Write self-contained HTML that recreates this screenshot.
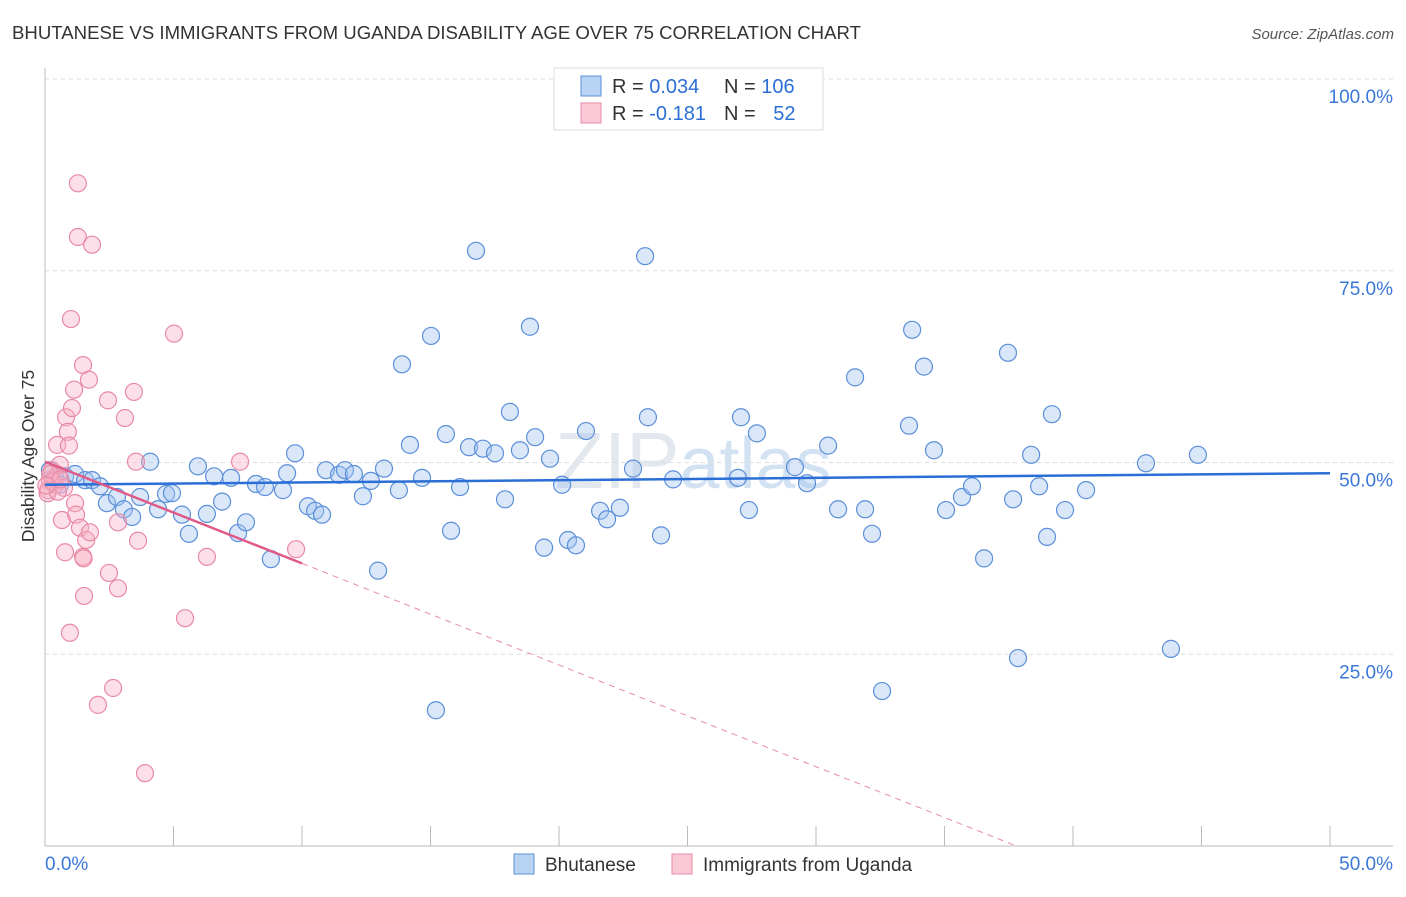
<!DOCTYPE html>
<html><head><meta charset="utf-8"><style>
body{margin:0;background:#fff;font-family:"Liberation Sans",sans-serif}
svg text{font-family:"Liberation Sans",sans-serif}
</style></head><body>
<svg id="chart" width="1406" height="892" xmlns="http://www.w3.org/2000/svg">
<text x="12" y="39" font-size="18.6" fill="#333">BHUTANESE VS IMMIGRANTS FROM UGANDA DISABILITY AGE OVER 75 CORRELATION CHART</text>
<text x="1394" y="39" font-size="15" fill="#555" text-anchor="end" font-style="italic">Source: ZipAtlas.com</text>
<text x="555" y="488" font-size="80" fill="#e3e8ef" font-family="Liberation Serif">ZIP<tspan fill="#d3e2f3" font-family="Liberation Sans" font-size="72">atlas</tspan></text>
<g id="grid"></g>
<g id="axes"></g>
<g id="marks"></g>
<text transform="translate(34,456) rotate(-90)" font-size="17.5" fill="#333" text-anchor="middle">Disability Age Over 75</text>
<g>
<rect x="554" y="68" width="269" height="62" fill="#fff" stroke="#ddd"/>
<rect x="581" y="76" width="20" height="20" fill="#b9d3f3" stroke="#5b8fd9"/>
<rect x="581" y="103" width="20" height="20" fill="#fbc9d6" stroke="#e88aa5"/>
<text x="612" y="93" font-size="20" fill="#333">R = <tspan fill="#2b6fd6">0.034</tspan></text>
<text x="724" y="93" font-size="20" fill="#333">N = <tspan fill="#2b6fd6">106</tspan></text>
<text x="612" y="120" font-size="20" fill="#333">R = <tspan fill="#2b6fd6">-0.181</tspan></text>
<text x="724" y="120" font-size="20" fill="#333">N = <tspan fill="#2b6fd6" dx="12">52</tspan></text>
</g>
<g>
<rect x="514" y="854" width="20" height="20" fill="#b9d3f3" stroke="#5b8fd9"/>
<text x="545" y="871" font-size="19" fill="#333">Bhutanese</text>
<rect x="672" y="854" width="20" height="20" fill="#fbc9d6" stroke="#e88aa5"/>
<text x="703" y="871" font-size="19" fill="#333">Immigrants from Uganda</text>
</g>
</svg>
<script>
const xTicks=[0,5,10,15,20,25,30,35,40,45,50];
const yTicks=[25,50,75,100];
const yTickLabels=["25.0%","50.0%","75.0%","100.0%"];
const blueX=[0.19,0.39,0.58,0.78,1.17,1.56,1.83,2.14,2.41,2.80,3.07,3.39,3.70,4.09,4.40,4.71,4.94,5.33,5.60,5.95,6.30,6.58,6.89,7.24,7.51,7.82,8.21,8.56,8.79,9.26,9.42,9.73,10.23,10.51,10.78,10.93,11.44,11.67,12.02,12.37,12.68,12.96,13.19,13.77,13.89,14.20,14.67,15.02,15.21,15.60,15.80,16.15,16.50,16.77,17.04,17.51,17.90,18.09,18.48,18.87,19.07,19.42,19.65,20.12,20.35,20.66,21.05,21.60,21.87,22.37,22.88,23.35,23.46,23.97,24.44,26.96,27.08,27.39,27.70,29.18,29.65,30.47,30.86,31.52,31.91,32.18,32.57,33.62,33.74,34.20,34.59,35.06,35.68,36.07,36.54,37.47,37.67,37.86,38.37,38.68,38.99,39.18,39.69,40.51,42.84,43.81,44.86];
const blueY=[49.0,48.0,47.1,48.2,48.5,47.7,47.7,46.9,44.7,45.5,43.9,42.9,45.5,50.1,43.9,45.9,46.0,43.2,40.7,49.5,43.3,48.2,44.9,48.0,40.8,42.2,47.2,46.8,37.4,46.4,48.6,51.2,44.3,43.7,43.2,49.0,48.4,49.0,48.5,45.6,47.6,35.9,49.2,46.4,62.8,52.3,48.0,66.5,17.7,53.7,41.1,46.8,52.0,77.6,51.8,51.2,45.2,56.6,51.6,67.7,53.3,38.9,50.5,47.1,39.9,39.2,54.1,43.7,42.6,44.1,49.2,76.9,55.9,40.5,47.8,48.0,55.9,43.8,53.8,49.4,47.3,52.2,43.9,61.1,43.9,40.7,20.2,54.8,67.3,62.5,51.6,43.8,45.5,46.9,37.5,64.3,45.2,24.5,51.0,46.9,40.3,56.3,43.8,46.4,49.9,25.7,51.0];
const pinkX=[0.12,0.19,0.27,0.39,0.47,0.51,0.58,0.66,0.74,0.78,0.82,0.89,0.93,0.97,1.01,1.05,1.13,1.17,1.21,1.28,1.28,1.36,1.48,1.48,1.52,1.60,1.71,1.75,1.83,2.06,2.45,2.49,2.65,2.84,2.84,3.11,3.46,3.54,3.62,3.89,5.02,5.45,6.30,7.59,9.77,0.1,0.3,0.5,0.2,0.6,0.05,1.5];
const pinkY=[46.4,47.7,49.0,47.1,52.3,48.4,49.7,42.5,46.7,38.3,55.9,54.0,52.2,27.8,68.7,57.1,59.5,44.7,43.2,86.4,79.4,41.5,62.7,37.7,32.6,39.9,60.8,40.9,78.4,18.4,58.1,35.6,20.6,33.6,42.2,55.8,59.2,50.1,39.8,9.5,66.8,29.7,37.7,50.1,38.7,46.0,47.5,46.2,48.5,47.8,47.0,37.5];
const blueTrend=[47.1,48.6];
const pinkTrend=[50.1];
const pinkSolidEnd=10, pinkDashEnd=37.8;
const NS="http://www.w3.org/2000/svg";
const X=v=>45+v*25.7, Y=v=>846-v*7.67;
function mk(t,a,p){const e=document.createElementNS(NS,t);for(const k in a)e.setAttribute(k,a[k]);p.appendChild(e);return e;}
const grid=document.getElementById('grid'),axes=document.getElementById('axes'),marks=document.getElementById('marks');
yTicks.forEach((t,i)=>{
 const l=mk('line',{x1:45,x2:1393,y1:Y(t),y2:Y(t),stroke:'#ddd','stroke-dasharray':'4,4'},grid);
 
 
 const tx=mk('text',{x:1393,y:Y(t)+24,'font-size':19,fill:'#3b78d8','text-anchor':'end'},axes);
 tx.textContent=yTickLabels[i];
 
 
});
const ax=mk('line',{x1:45,x2:1393,y1:846,y2:846,stroke:'#bbb'},axes);


const ay=mk('line',{x1:45,x2:45,y1:68,y2:846,stroke:'#bbb'},axes);


xTicks.forEach(t=>{
 const l=mk('line',{x1:X(t),x2:X(t),y1:826,y2:846,stroke:'#bbb'},axes);
 
 
});
[[0,"0.0%",45,'start'],[50,"50.0%",1393,'end']].forEach(d=>{
 const tx=mk('text',{x:d[2],y:870,'font-size':19,fill:'#3b78d8','text-anchor':d[3]},axes);
 tx.textContent=d[1];
 
 
});
blueX.forEach((v,i)=>{
 const c=mk('circle',{cx:X(v),cy:Y(blueY[i]),r:8.5,fill:'rgba(160,196,240,0.4)',stroke:'#5b8fd9','stroke-width':1.2},marks);
 
 
});
pinkX.forEach((v,i)=>{
 const c=mk('circle',{cx:X(v),cy:Y(pinkY[i]),r:8.5,fill:'rgba(247,175,198,0.4)',stroke:'#e88aa5','stroke-width':1.2},marks);
 
 
});
const bt=mk('line',{x1:X(0),y1:Y(blueTrend[0]),x2:X(50),y2:Y(blueTrend[1]),stroke:'#2b6fd6','stroke-width':2.5},marks);


const pY=x=>pinkTrend[0]-x*(pinkTrend[0]/pinkDashEnd);
const pt=mk('line',{x1:X(0),y1:Y(pY(0)),x2:X(pinkSolidEnd),y2:Y(pY(pinkSolidEnd)),stroke:'#e05a88','stroke-width':2.5},marks);


const pd=mk('line',{x1:X(pinkSolidEnd),y1:Y(pY(pinkSolidEnd)),x2:X(pinkDashEnd),y2:Y(pY(pinkDashEnd)),stroke:'#e88aa5','stroke-width':1,'stroke-dasharray':'6,5'},marks);


</script>
</body></html>
